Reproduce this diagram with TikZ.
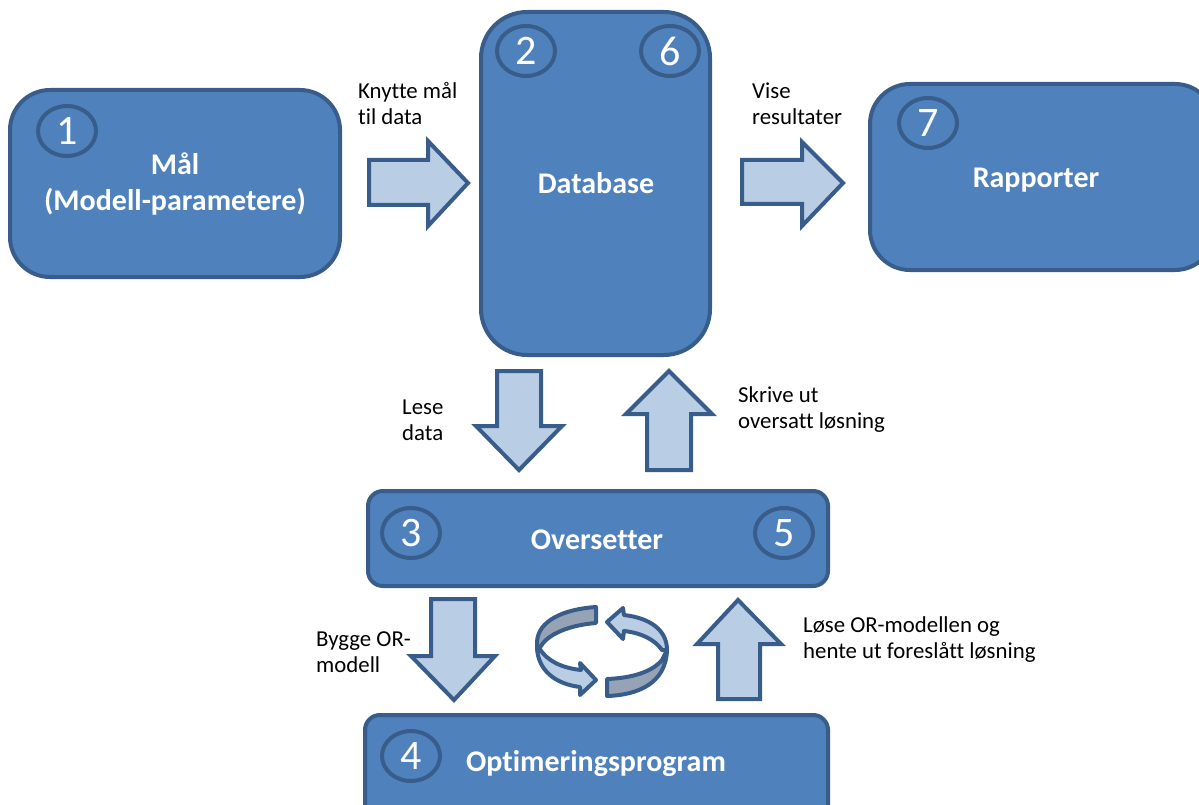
\documentclass[tikz,border=0pt]{standalone}
\usepackage{fontspec}
\setmainfont[Ligatures=NoCommon]{Carlito}
\definecolor{blockfill}{HTML}{4F81BD}
\definecolor{blockline}{HTML}{385D8A}
\definecolor{arrowfill}{HTML}{B9CDE5}
\definecolor{bandfill}{HTML}{95A3B5}
\tikzset{
  x=1pt,y=-1pt,
  block/.style={draw=blockline,line width=4pt,fill=blockfill},
  blockarrow/.style={draw=blockline,line width=4pt,fill=arrowfill,line join=miter},
  band/.style={draw=blockline,line width=4pt,fill=bandfill,line join=round},
  bandarrow/.style={draw=blockline,line width=4pt,fill=arrowfill,line join=round},
  badge/.style={draw=blockline,line width=4pt,ellipse,minimum width=58pt,minimum height=50pt,inner sep=0pt,text=white,font=\fontsize{42}{42}\selectfont},
  title/.style={text=white,font=\fontsize{30}{36}\selectfont\bfseries,align=center,inner sep=0pt},
  caption/.style={anchor=west,align=left,font=\fontsize{22.8}{26}\selectfont,text=black,inner sep=0pt}
}
\usetikzlibrary{shapes.geometric}
\begin{document}
\begin{tikzpicture}
\useasboundingbox (0,0) rectangle (1199,805);
\clip (0,0) rectangle (1199,805);
% blocks
\path[block,rounded corners=40pt] (10,90) rectangle (340,277);
\path[block,rounded corners=46pt] (481,12) rectangle (710,355);
\path[block,rounded corners=40pt] (870,84) rectangle (1215,270);
\path[block,rounded corners=15pt] (368,491) rectangle (828,586);
\path[block,rounded corners=15pt] (365,715) rectangle (828,835);
% badges
\node[badge] (n1) at (67,131) {1};
\node[badge] (n2) at (526,51) {2};
\node[badge] (n6) at (670,51) {6};
\node[badge] (n7) at (928,123) {7};
\node[badge] (n3) at (411,533) {3};
\node[badge] (n5) at (784,533) {5};
\node[badge] (n4) at (411,756) {4};
% titles
\node[title] (t1) at (175,184) {Mål\\(Modell-parametere)};
\node[title] (t2) at (596,183) {Database};
\node[title] (t3) at (1036,180) {Rapporter};
\node[title] (t4) at (597,540) {Oversetter};
\node[title] (t5) at (596,764) {Optimeringsprogram};
% block arrows
\path[blockarrow] (369,160) -- (428,160) -- (428,141) -- (468,183) -- (428,226) -- (428,205) -- (369,205) -- cycle;
\path[blockarrow] (742,160) -- (802,160) -- (802,142) -- (843,183) -- (802,226) -- (802,204) -- (742,204) -- cycle;
\path[blockarrow] (497,371) -- (541,371) -- (541,426) -- (562,426) -- (519,470) -- (476,426) -- (497,426) -- cycle;
\path[blockarrow] (647,470) -- (691,470) -- (691,414) -- (712,414) -- (669,371) -- (626,414) -- (647,414) -- cycle;
\path[blockarrow] (431,599) -- (475,599) -- (475,656) -- (495,656) -- (454,700) -- (411,656) -- (431,656) -- cycle;
\path[blockarrow] (718,699) -- (760,699) -- (760,644) -- (781,644) -- (738,600) -- (697,644) -- (718,644) -- cycle;
% cycle symbol
\path[band] (596,607) .. controls (565,609) and (538,620) .. (537,642) -- (537,650)
  -- (541,646) .. controls (548,634) and (570,625) .. (596,623) -- cycle;
\path[band] (607,696) .. controls (640,695) and (666,682) .. (667,650) -- (662,660)
  .. controls (652,672) and (632,678) .. (607,679) -- cycle;
\path[bandarrow] (537,648) .. controls (538,670) and (555,684) .. (580,687)
  -- (580,695) -- (596,680) -- (580,663) -- (581,670)
  .. controls (562,668) and (547,661) .. (539,648) -- cycle;
\path[bandarrow] (667,650) .. controls (667,630) and (650,618) .. (624,615)
  -- (623,608) -- (607,622) -- (623,639) -- (624,631)
  .. controls (642,633) and (655,640) .. (662,650) -- cycle;
% captions
\node[caption] (c1) at (358,104) {Knytte mål\\til data};
\node[caption] (c2) at (752,104) {Vise\\resultater};
\node[caption] (c3) at (402,420) {Lese\\data};
\node[caption] (c4) at (738,410) {Skrive ut\\oversatt løsning};
\node[caption] (c5) at (316,652) {Bygge OR-\\modell};
\node[caption] (c6) at (803,640) {Løse OR-modellen og\\hente ut foreslått løsning};
\end{tikzpicture}
\end{document}
